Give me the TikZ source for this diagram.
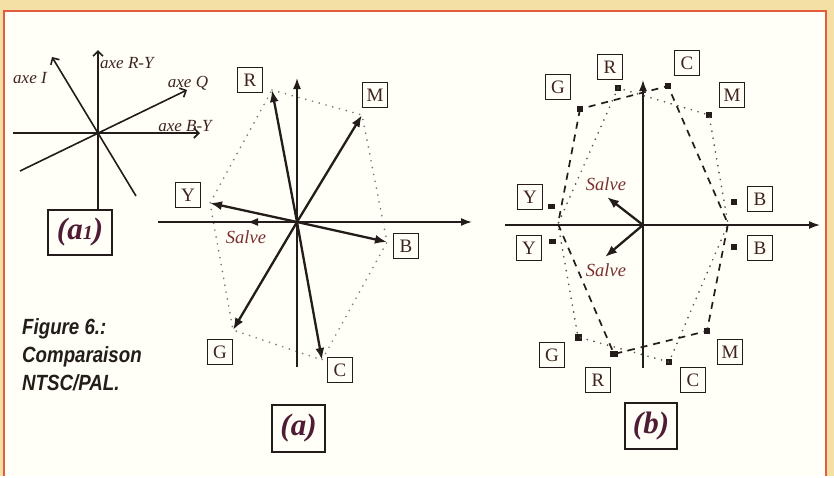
\documentclass[tikz,border=0pt]{standalone}
\usepackage{fontspec}
\setmainfont{Liberation Serif}
\newfontfamily\capfont[FakeStretch=0.85]{Liberation Sans}
\usetikzlibrary{arrows.meta}
\definecolor{paper}{RGB}{244,224,165}
\definecolor{inner}{RGB}{255,254,247}
\definecolor{framered}{RGB}{226,92,62}
\definecolor{ink}{RGB}{35,28,26}
\definecolor{lbl}{RGB}{62,36,30}
\definecolor{salvec}{RGB}{122,48,46}
\definecolor{panelc}{RGB}{78,28,52}
\definecolor{dotc}{RGB}{125,125,125}
\begin{document}
\begin{tikzpicture}[x=1pt,y=-1pt,
  lbox/.style={draw=ink, line width=1.3pt, minimum width=25pt, minimum height=25pt, inner sep=0pt, text=lbl, font=\fontsize{19}{19}\selectfont},
  pbox/.style={draw=ink, line width=1.5pt, inner sep=0pt, text=panelc, font=\fontsize{31}{31}\selectfont\bfseries\itshape},
  axe/.style={text=lbl, font=\fontsize{17}{17}\selectfont\itshape, inner sep=1pt},
  salvetxt/.style={text=salvec, font=\fontsize{18.5}{18.5}\selectfont\itshape, inner sep=1pt},
  axisline/.style={draw=ink, line width=1.6pt},
  axarrow/.style={axisline, -{Latex[length=11pt,width=8pt]}},
  vec/.style={draw=ink, line width=2.3pt, -{Latex[length=12pt,width=9pt]}},
  openarrow/.style={axisline, -{Straight Barb[length=5pt,width=10pt,line width=1.6pt]}},
  dotline/.style={draw=dotc, line width=1.9pt, line cap=round, dash pattern=on 0pt off 7pt},
  dotlineb/.style={draw=ink!75, line width=1.9pt, line cap=round, dash pattern=on 0pt off 7pt},
  dashline/.style={draw=ink, line width=1.7pt, dash pattern=on 7pt off 6pt},
  markersq/.style={fill=ink, draw=none, rectangle, inner sep=0pt, minimum size=6pt}
]
% background and frame
\fill[paper] (0,0) rectangle (834,476);
\fill[inner] (4,11) rectangle (826,476);
\draw[framered, line width=2pt] (4,476) -- (4,11) -- (826,11) -- (826,476);
\useasboundingbox (0,0) rectangle (834,476);

% ---------- panel (a1) ----------
\coordinate (O1) at (98,133);
\node[pbox, minimum width=64pt, minimum height=45pt] (a1box) at (80,232.5) {(a{\fontsize{20}{20}\selectfont 1})};
\coordinate (a1top) at (98,50);
\coordinate (a1left) at (13,133);
\coordinate (a1right) at (200,133);
\coordinate (a1Iend) at (52,57);
\coordinate (a1Istart) at (136,196);
\coordinate (a1Qend) at (187,90);
\coordinate (a1Qstart) at (20,171);
\draw[openarrow] (O1 |- a1box.north) -- (a1top);
\draw[openarrow] (a1left) -- (a1right);
\draw[openarrow] (a1Istart) -- (a1Iend);
\draw[openarrow] (a1Qstart) -- (a1Qend);
\node[axe] (lI) at (30,78) {axe I};
\node[axe, anchor=west] (lRY) at (99,63) {axe R-Y};
\node[axe] (lQ) at (188,83) {axe Q};
\node[axe] (lBY) at (185,126) {axe B-Y};

% ---------- caption ----------
\node[anchor=north west, align=left, inner sep=0pt, text=ink,
      font=\capfont\bfseries\itshape\fontsize{22}{28}\selectfont] (cap) at (22,318)
      {Figure 6.:\\Comparaison\\NTSC/PAL.};

% ---------- panel (a) ----------
\coordinate (Oa) at (297,222);
\coordinate (aLeft) at (158,222);
\coordinate (aRight) at (472,222);
\coordinate (aTop) at (297,78);
\coordinate (aBot) at (297,367);
\coordinate (aSalve) at (247,222);
\coordinate (tR) at (272,90);
\coordinate (tM) at (362,115);
\coordinate (tY) at (210,203);
\coordinate (tB) at (387,242);
\coordinate (tG) at (233,330);
\coordinate (tC) at (322,360);
\draw[dotline] (tR) -- (tM) -- (tB) -- (tC) -- (tG) -- (tY) -- cycle;
\draw[axarrow] (aLeft) -- (aRight);
\draw[axisline] (aBot) -- (Oa);
\draw[axarrow] (Oa) -- (aTop);
\draw[axarrow] (Oa) -- (aSalve);
\foreach \t in {tR,tM,tY,tB,tG,tC} \draw[vec] (Oa) -- (\t);
\node[salvetxt] (aSalveL) at (246,237) {Salve};
\node[lbox] (aR) at (250,80) {R};
\node[lbox] (aM) at (375,95) {M};
\node[lbox] (aY) at (188,195) {Y};
\node[lbox] (aB) at (406,246) {B};
\node[lbox] (aG) at (220,352) {G};
\node[lbox] (aC) at (340,370) {C};
\node[pbox, minimum width=53pt, minimum height=47pt] (abox) at (298.5,428.5) {(a)};

% ---------- panel (b) ----------
\coordinate (Ob) at (643,225);
\coordinate (bLeft) at (505,225);
\coordinate (bRight) at (820,225);
\coordinate (bTop) at (643,80);
\coordinate (bBot) at (643,368);
\coordinate (bSalveU) at (607,197);
\coordinate (bSalveD) at (605,257);
\coordinate (Lax) at (558,224);
\coordinate (Rax) at (728,224);
\node[markersq] (mRu) at (618,88) {};
\node[markersq] (mCu) at (668,86) {};
\node[markersq] (mGu) at (580,109) {};
\node[markersq] (mMu) at (709,115) {};
\node[markersq, minimum width=7pt, minimum height=5pt] (mYu) at (551,206) {};
\node[markersq] (mBu) at (734,202) {};
\node[markersq, minimum width=7pt, minimum height=5pt] (mYl) at (552,241) {};
\node[markersq] (mBl) at (734,247) {};
\node[markersq, minimum size=7pt] (mGl) at (578,337) {};
\node[markersq, minimum width=8pt, minimum height=6pt] (mRl) at (614,354) {};
\node[markersq] (mCl) at (669,362) {};
\node[markersq] (mMl) at (707,331) {};
\draw[axarrow] (bLeft) -- (bRight);
\draw[axisline] (bBot) -- (Ob);
\draw[axarrow] (Ob) -- (bTop);
\draw[dotlineb] (mRu.center) -- (Lax) -- (mGl.center) -- (mCl.center) -- (Rax) -- (mMu.center) -- cycle;
\draw[dashline] (mGu.center) -- (Lax) -- (mRl.center) -- (mMl.center) -- (Rax) -- (mCu.center) -- cycle;
\draw[vec] (Ob) -- (bSalveU);
\draw[vec] (Ob) -- (bSalveD);
\node[salvetxt] (bSalveUL) at (606,184) {Salve};
\node[salvetxt] (bSalveDL) at (606,270) {Salve};
\node[lbox] (bGu) at (558,87) {G};
\node[lbox] (bRu) at (610,67) {R};
\node[lbox] (bCu) at (687,63) {C};
\node[lbox] (bMu) at (732,95) {M};
\node[lbox] (bYu) at (530,197) {Y};
\node[lbox] (bBu) at (760,199) {B};
\node[lbox] (bYl) at (529,248) {Y};
\node[lbox] (bBl) at (760,248) {B};
\node[lbox] (bGl) at (552,355) {G};
\node[lbox] (bRl) at (598,380) {R};
\node[lbox] (bCl) at (693,380) {C};
\node[lbox] (bMl) at (730,352) {M};
\node[pbox, minimum width=52pt, minimum height=46pt] (bbox) at (651,426) {(b)};
\end{tikzpicture}
\end{document}
